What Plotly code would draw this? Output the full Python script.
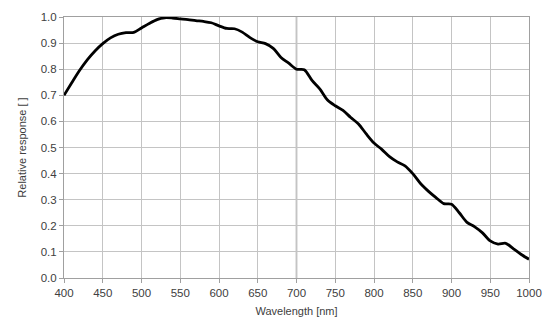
import plotly.graph_objects as go

# Spectral response of the sensor, sampled every 10 nm
wavelength_nm = list(range(400, 1001, 10))
relative_response = [
    0.700, 0.748, 0.795, 0.836, 0.870, 0.898, 0.920, 0.934, 0.940, 0.941,
    0.958, 0.975, 0.990, 0.997, 0.996, 0.993, 0.990, 0.986, 0.983, 0.978,
    0.966, 0.956, 0.955, 0.942, 0.921, 0.905, 0.898, 0.880, 0.845, 0.823,
    0.800, 0.798, 0.757, 0.725, 0.682, 0.660, 0.642, 0.615, 0.590, 0.552,
    0.517, 0.493, 0.465, 0.445, 0.430, 0.400, 0.362, 0.333, 0.308, 0.285,
    0.283, 0.250, 0.213, 0.196, 0.173, 0.142, 0.130, 0.133, 0.112, 0.090,
    0.072,
]

x_ticks = list(range(400, 1001, 50))
y_ticks = [round(i * 0.1, 1) for i in range(11)]
y_tick_text = [f"{v:.1f}" for v in y_ticks]

FONT = "Liberation Sans, Arial, sans-serif"
GRID = "#c4c4c4"

fig = go.Figure()
fig.add_trace(go.Scatter(
    x=wavelength_nm,
    y=relative_response,
    mode="lines",
    line=dict(color="#000000", width=2.8, shape="spline", smoothing=0.8),
    hoverinfo="skip",
    showlegend=False,
))

# emphasised gridline at 700 nm
fig.add_vline(x=700, line_color="#7c7c7c", line_width=1.4, layer="below")

fig.update_layout(
    width=554,
    height=331,
    margin=dict(l=64, r=25, t=17, b=53),
    paper_bgcolor="white",
    plot_bgcolor="white",
    font=dict(family=FONT, size=11, color="#404040"),
)
fig.update_xaxes(
    range=[400, 1000],
    tickvals=x_ticks,
    ticks="outside",
    ticklen=4,
    tickcolor="#a0a0a0",
    showgrid=True,
    gridcolor=GRID,
    gridwidth=1,
    showline=True,
    linecolor="#a0a0a0",
    mirror=True,
    zeroline=False,
    title=dict(text="Wavelength [nm]", standoff=9, font=dict(size=11, color="#404040")),
    tickfont=dict(size=11.5, color="#404040"),
)
fig.update_yaxes(
    range=[0, 1.0],
    tickvals=y_ticks,
    ticktext=y_tick_text,
    ticks="outside",
    ticklen=4,
    tickcolor="#a0a0a0",
    showgrid=True,
    gridcolor=GRID,
    gridwidth=1,
    showline=True,
    linecolor="#a0a0a0",
    mirror=True,
    zeroline=False,
    title=dict(text="Relative response [ ]", standoff=11, font=dict(size=11, color="#404040")),
    tickfont=dict(size=11.5, color="#404040"),
)

fig.write_html("out.html")
